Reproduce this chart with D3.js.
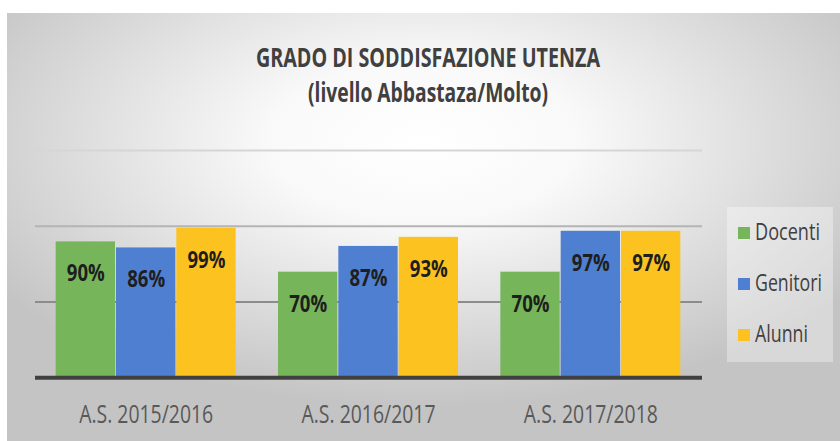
<!DOCTYPE html>
<html>
<head>
<meta charset="utf-8">
<script src="https://cdn.jsdelivr.net/npm/d3@7"></script>
<style>
  html, body { margin: 0; padding: 0; background: #ffffff; }
  svg { display: block; }
  text { font-family: 'Open Sans', 'Noto Sans', sans-serif; }
</style>
</head>
<body>
<div id="container"></div>
<script>
// Grado di soddisfazione utenza - grouped bars

//_____ DATA _____
const years = [ 'A.S. 2015/2016', 'A.S. 2016/2017', 'A.S. 2017/2018' ];
const groups = [ 'Docenti', 'Genitori', 'Alunni' ];
const docenti = [ 0.90, 0.70, 0.70 ];
const genitori = [ 0.86, 0.87, 0.97 ];
const alunni = [ 0.99, 0.93, 0.97 ];
const gridTicks = [ 0.5, 1.0, 1.5 ];
const titleLines = [ 'GRADO DI SODDISFAZIONE UTENZA', '(livello Abbastaza/Molto)' ];

//_____ VARIABLES _____
const W = 840, H = 441;
const colors = { Docenti: '#76b55a', Genitori: '#4f7fd1', Alunni: '#fcc21f' };
const gridColors = { 0.5: '#8c8c8c', 1: '#b4b4b4', 1.5: '#d6d6d6' };
const series = { Docenti: docenti, Genitori: genitori, Alunni: alunni };

const data = years.map( ( y, i ) => ( {
  year: y,
  values: groups.map( g => ( { key: g, value: series[ g ][ i ] } ) )
} ) );

//_____ SVG _____
const svg = d3.select( '#container' )
  .append( 'svg' )
  .attr( 'width', W )
  .attr( 'height', H );

//>>> radial background
const defs = svg.append( 'defs' );
const grad = defs.append( 'radialGradient' )
  .attr( 'id', 'bg' )
  .attr( 'cx', 0.5 ).attr( 'cy', 0.3 ).attr( 'r', 0.62 );
grad.append( 'stop' ).attr( 'offset', 0 ).attr( 'stop-color', '#ffffff' );
grad.append( 'stop' ).attr( 'offset', 0.3 ).attr( 'stop-color', '#f9f9f9' );
grad.append( 'stop' ).attr( 'offset', 1 ).attr( 'stop-color', '#c4c4c4' );

svg.append( 'rect' )
  .attr( 'x', 7 ).attr( 'y', 13 )
  .attr( 'width', W - 7 ).attr( 'height', H - 13 )
  .attr( 'fill', 'url(#bg)' );

//_____ SCALES _____
const x0 = d3.scaleBand()
  .domain( years )
  .range( [ 35, 702 ] )
  .paddingInner( 0.186 )
  .paddingOuter( 0.093 );

const x1 = d3.scaleBand()
  .domain( groups )
  .range( [ 0, x0.bandwidth() ] );

const y = d3.scaleLinear()
  .domain( [ 0, 1.5 ] )
  .range( [ 377.7, 150.5 ] );

//_____ GRIDLINES _____
svg.append( 'g' )
  .selectAll( 'line' )
  .data( gridTicks )
  .join( 'line' )
  .attr( 'x1', 35 ).attr( 'x2', 702 )
  .attr( 'y1', d => y( d ) ).attr( 'y2', d => y( d ) )
  .attr( 'stroke', d => gridColors[ d ] )
  .attr( 'stroke-width', 2 );

//_____ BARS _____
const g = svg.append( 'g' )
  .selectAll( 'g' )
  .data( data )
  .join( 'g' )
  .attr( 'transform', d => `translate(${x0( d.year )},0)` );

g.selectAll( 'rect' )
  .data( d => d.values )
  .join( 'rect' )
  .attr( 'x', d => x1( d.key ) )
  .attr( 'y', d => y( d.value ) )
  .attr( 'width', x1.bandwidth() - 1 )
  .attr( 'height', d => y( 0 ) - y( d.value ) )
  .attr( 'fill', d => colors[ d.key ] );

//>>> value labels
g.selectAll( 'text' )
  .data( d => d.values )
  .join( 'text' )
  .attr( 'x', d => x1( d.key ) + x1.bandwidth() / 2 )
  .attr( 'y', d => y( d.value ) + 40 )
  .attr( 'text-anchor', 'middle' )
  .attr( 'font-size', 23 )
  .attr( 'font-weight', 'bold' )
  .attr( 'fill', '#1e1e1e' )
  .attr( 'textLength', 38 )
  .attr( 'lengthAdjust', 'spacingAndGlyphs' )
  .text( d => d3.format( '.0%' )( d.value ) );

//_____ X AXIS _____
svg.append( 'line' )
  .attr( 'x1', 35 ).attr( 'x2', 702 )
  .attr( 'y1', y( 0 ) ).attr( 'y2', y( 0 ) )
  .attr( 'stroke', '#404040' )
  .attr( 'stroke-width', 4 );

svg.append( 'g' )
  .selectAll( 'text' )
  .data( years )
  .join( 'text' )
  .attr( 'x', d => x0( d ) + x0.bandwidth() / 2 )
  .attr( 'y', 422.7 )
  .attr( 'text-anchor', 'middle' )
  .attr( 'font-size', 25 )
  .attr( 'fill', '#595959' )
  .attr( 'textLength', 134 )
  .attr( 'lengthAdjust', 'spacingAndGlyphs' )
  .text( d => d );

//_____ TITLE _____
const titleWidths = [ 344, 240 ];
svg.append( 'g' )
  .selectAll( 'text' )
  .data( titleLines )
  .join( 'text' )
  .attr( 'x', 428 )
  .attr( 'y', ( d, i ) => 67 + i * 35 )
  .attr( 'text-anchor', 'middle' )
  .attr( 'font-size', 26 )
  .attr( 'font-weight', 'bold' )
  .attr( 'fill', '#404040' )
  .attr( 'textLength', ( d, i ) => titleWidths[ i ] )
  .attr( 'lengthAdjust', 'spacingAndGlyphs' )
  .text( d => d );

//_____ LEGEND _____
const legendWidths = { Docenti: 65, Genitori: 67, Alunni: 53 };
const legend = svg.append( 'g' );

legend.append( 'rect' )
  .attr( 'x', 727 ).attr( 'y', 207 )
  .attr( 'width', 106 ).attr( 'height', 155 )
  .attr( 'fill', '#ffffff' )
  .attr( 'opacity', 0.35 );

const item = legend.selectAll( 'g' )
  .data( groups )
  .join( 'g' )
  .attr( 'transform', ( d, i ) => `translate(738,${240 + i * 51})` );

item.append( 'rect' )
  .attr( 'x', 0 ).attr( 'y', -13 )
  .attr( 'width', 12 ).attr( 'height', 12 )
  .attr( 'fill', d => colors[ d ] );

//>>> squeeze each label horizontally (condensed look)
item.append( 'text' )
  .attr( 'x', 0 ).attr( 'y', 0 )
  .attr( 'font-size', 23 )
  .attr( 'fill', '#404040' )
  .text( d => d )
  .attr( 'transform', function ( d ) {
    const len = this.getComputedTextLength();
    return `translate(17,0) scale(${legendWidths[ d ] / len},1)`;
  } );
</script>
</body>
</html>
